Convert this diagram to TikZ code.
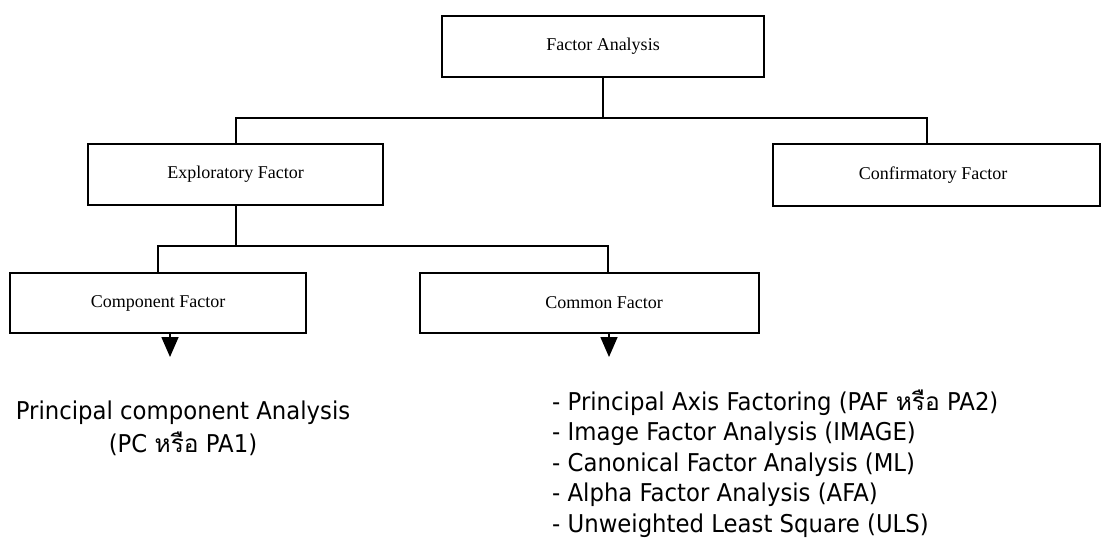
\documentclass[tikz,border=0pt]{standalone}
\usepackage{fontspec}
\setmainfont{Liberation Serif}
\newfontfamily\tah[FakeStretch=0.93]{DejaVu Sans}
\newfontfamily\thai[Script=Thai]{Loma}
\usetikzlibrary{arrows.meta}
\begin{document}
\begin{tikzpicture}[x=1pt,y=-1pt,
  box/.style={draw=black,line width=2.5pt,fill=white,inner sep=0pt,
    font=\fontsize{18}{21}\selectfont},
  conn/.style={draw=black,line width=2.4pt},
  arr/.style={draw=black,line width=1.6pt,-{Triangle[width=17pt,length=20pt]}},
  lst/.style={inner sep=0pt,font=\tah\fontsize{24.5}{30.5}\selectfont}]
\useasboundingbox (0,0) rectangle (1102,542);

\node[box,minimum width=322pt,minimum height=61pt] (fa) at (603,46.5) {Factor Analysis};
\node[box,minimum width=295pt,minimum height=61pt] (ef) at (235.5,174.5) {Exploratory Factor};
\node[box,minimum width=327pt,minimum height=62pt] (cf) at (936.5,175) {\hspace*{-7pt}Confirmatory Factor};
\node[box,minimum width=296pt,minimum height=60pt] (comp) at (158,303) {Component Factor};
\node[box,minimum width=339pt,minimum height=60pt] (comm) at (589.5,303) {\hspace*{29pt}Common Factor};

\coordinate (j1) at (236,118);
\coordinate (j2) at (927,118);
\coordinate (j3) at (158,246);
\coordinate (j4) at (608,246);
\coordinate (a1) at (170,357);
\coordinate (a2) at (609,357);

\draw[conn] (fa.south) -- (fa.south |- j1);
\draw[conn] (ef.north -| j1) -- (j1) -- (j2) -- (cf.north -| j2);
\draw[conn] (ef.south -| j1) -- (j1 |- j3);
\draw[conn] (comp.north -| j3) -- (j3) -- (j4) -- (comm.north -| j4);
\draw[arr] (comp.south -| a1) -- (a1);
\draw[arr] (comm.south -| a2) -- (a2);

\node[lst,anchor=base] (pc1) at (183,419) {Principal component Analysis};
\node[lst,anchor=base] (pc2) at (183,452) {(PC {\thai หรือ} PA1)};

\node[lst,anchor=base west] (l1) at (552,410) {- Principal Axis Factoring (PAF {\thai หรือ} PA2)};
\node[lst,anchor=base west] (l2) at (552,440.5) {- Image Factor Analysis (IMAGE)};
\node[lst,anchor=base west] (l3) at (552,471) {- Canonical Factor Analysis (ML)};
\node[lst,anchor=base west] (l4) at (552,501.5) {- Alpha Factor Analysis (AFA)};
\node[lst,anchor=base west] (l5) at (552,532) {- Unweighted Least Square (ULS)};
\end{tikzpicture}
\end{document}
